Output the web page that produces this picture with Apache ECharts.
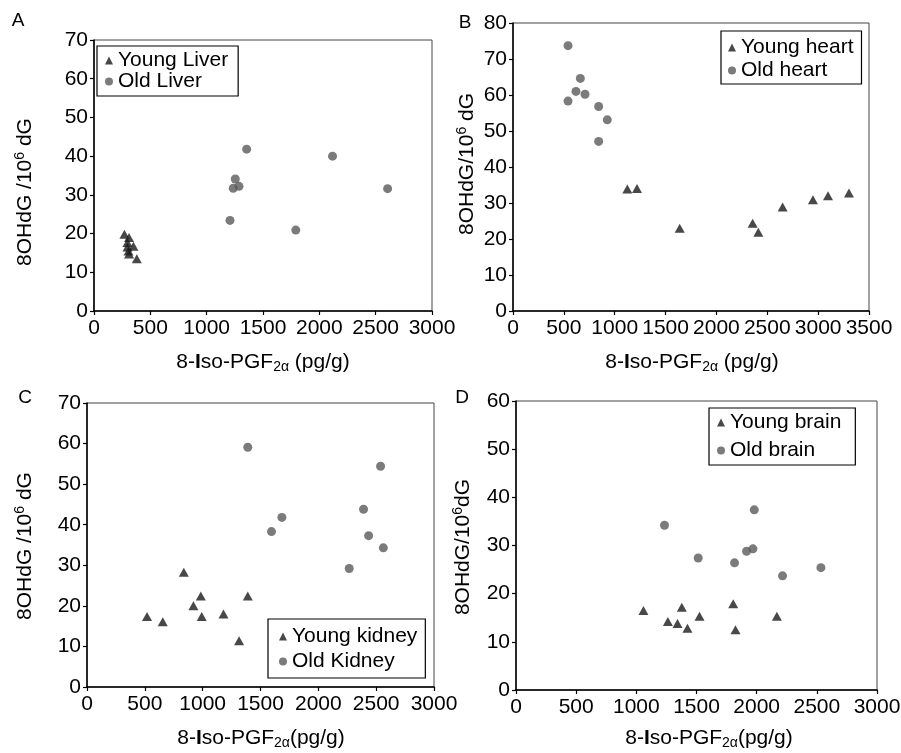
<!DOCTYPE html>
<html>
<head>
<meta charset="utf-8">
<script src="https://cdn.jsdelivr.net/npm/echarts@6/dist/echarts.min.js"></script>
<style>html,body{margin:0;padding:0;background:#fff;}#c{width:901px;height:753px;}</style>
</head>
<body>
<div id="c"></div>
<script>
// ---- data ----
const liverYoungX = [270, 311, 297, 350, 297, 306, 311, 380];
const liverYoungY = [19.8, 19.0, 17.7, 16.7, 16.5, 15.5, 14.7, 13.5];
const liverOldX = [1207, 1254, 1236, 1287, 1355, 1791, 2117, 2606];
const liverOldY = [23.4, 34.1, 31.7, 32.2, 41.8, 20.9, 40.0, 31.6];

const heartYoungX = [1124, 1219, 1639, 2356, 2412, 2651, 2949, 3097, 3303];
const heartYoungY = [33.9, 34.0, 23.0, 24.4, 21.9, 28.9, 30.9, 32.0, 32.8];
const heartOldX = [541, 541, 619, 662, 708, 842, 927, 842];
const heartOldY = [73.7, 58.3, 61.0, 64.6, 60.2, 56.8, 53.1, 47.1];

const kidneyYoungX = [519, 655, 837, 920, 984, 992, 1180, 1315, 1390];
const kidneyYoungY = [17.4, 16.1, 28.3, 20.0, 22.4, 17.4, 18.0, 11.4, 22.4];
const kidneyOldX = [1390, 1595, 1685, 2267, 2391, 2435, 2538, 2562];
const kidneyOldY = [59.1, 38.3, 41.8, 29.2, 43.8, 37.3, 54.4, 34.3];

const brainYoungX = [1059, 1262, 1342, 1378, 1425, 1525, 1805, 1824, 2168];
const brainYoungY = [16.5, 14.2, 13.8, 17.2, 12.8, 15.3, 17.9, 12.5, 15.3];
const brainOldX = [1234, 1514, 1816, 1916, 1969, 1980, 2215, 2534];
const brainOldY = [34.2, 27.4, 26.4, 28.8, 29.3, 37.4, 23.7, 25.4];

const xMax = [3000, 3500, 3000, 3000];
const yMax = [70, 80, 70, 60];
const panelLetters = ['A', 'B', 'C', 'D'];
const seriesNames = [
  ['Young Liver', 'Old Liver'],
  ['Young heart', 'Old heart'],
  ['Young kidney', 'Old Kidney'],
  ['Young brain', 'Old brain']
];
const yTitles = [
  ['8OHdG /10', ' dG'],
  ['8OHdG/10', ' dG'],
  ['8OHdG /10', ' dG'],
  ['8OHdG/10', 'dG']
];
const xTitleTail = [' (pg/g)', ' (pg/g)', '(pg/g)', '(pg/g)'];

// ---- layout ----
const FONT = 'Liberation Sans, Arial, Helvetica, sans-serif';
const grids = [
  {left: 94, top: 40, width: 338, height: 271},
  {left: 513, top: 23, width: 356, height: 288},
  {left: 87, top: 403, width: 347, height: 284},
  {left: 516, top: 401, width: 361, height: 289}
];
const pair = (xs, ys) => xs.map((x, i) => [x, ys[i]]);
const youngData = [pair(liverYoungX, liverYoungY), pair(heartYoungX, heartYoungY), pair(kidneyYoungX, kidneyYoungY), pair(brainYoungX, brainYoungY)];
const oldData = [pair(liverOldX, liverOldY), pair(heartOldX, heartOldY), pair(kidneyOldX, kidneyOldY), pair(brainOldX, brainOldY)];

const legendPos = [
  {left: 97, top: 46, padding: [4, 10, 4, 8], itemGap: 0, itemTextGap: 4},
  {left: 721, top: 31, padding: [6, 8, 3, 7], itemGap: 2, itemTextGap: 5},
  {left: 268, top: 619, padding: [7, 8, 6, 11], itemGap: 4, itemTextGap: 5},
  {left: 709, top: 408, padding: [4, 14, 4, 8], itemGap: 7, itemTextGap: 12}
];
const letterPos = [[18, 21], [465, 23], [25, 398], [462, 398]];
const yTitlePos = [[25, 192], [467, 164], [25, 546], [463, 547]];
const xTitlePos = [[263, 362], [692, 362], [261, 738], [709, 738]];

const plain = v => String(v);

const option = {
  animation: false,
  backgroundColor: '#fff',
  textStyle: {fontFamily: FONT},
  grid: grids.map(g => Object.assign({show: true, borderColor: '#444', borderWidth: 1, backgroundColor: 'transparent', containLabel: false, outerBoundsMode: 'none'}, g)),
  xAxis: grids.map((g, i) => ({
    type: 'value', gridIndex: i, min: 0, max: xMax[i], interval: 500,
    axisLine: {show: true, onZero: false, lineStyle: {color: '#000', width: 1.5}},
    axisTick: {show: true, inside: false, length: 4, lineStyle: {color: '#000', width: 1.2}},
    axisLabel: {color: '#000', fontSize: 21, margin: 7, fontFamily: FONT, showMaxLabel: true, showMinLabel: true, formatter: plain, hideOverlap: false},
    splitLine: {show: false}
  })),
  yAxis: grids.map((g, i) => ({
    type: 'value', gridIndex: i, min: 0, max: yMax[i], interval: 10,
    axisLine: {show: true, onZero: false, lineStyle: {color: '#000', width: 1.5}},
    axisTick: {show: true, inside: false, length: 4, lineStyle: {color: '#000', width: 1.2}},
    axisLabel: {color: '#000', fontSize: 21, margin: 6, fontFamily: FONT, formatter: plain},
    splitLine: {show: false}
  })),
  legend: legendPos.map((p, i) => ({
    data: seriesNames[i],
    orient: 'vertical',
    left: p.left, top: p.top, padding: p.padding,
    itemGap: p.itemGap, itemTextGap: p.itemTextGap,
    itemWidth: 8, itemHeight: 8,
    borderColor: '#000', borderWidth: 1.2, backgroundColor: '#fff',
    textStyle: {fontSize: 21, lineHeight: 21, color: '#000', fontFamily: FONT},
    selectedMode: false
  })),
  series: [].concat(...grids.map((g, i) => [
    {
      name: seriesNames[i][0], type: 'scatter', xAxisIndex: i, yAxisIndex: i,
      symbol: 'triangle', symbolSize: [10, 9],
      itemStyle: {color: '#1a1a1a'},
      data: youngData[i]
    },
    {
      name: seriesNames[i][1], type: 'scatter', xAxisIndex: i, yAxisIndex: i,
      symbol: 'circle', symbolSize: 9,
      itemStyle: {color: '#5a5a5a'},
      data: oldData[i]
    }
  ])),
  graphic: [].concat(
    letterPos.map((p, i) => ({
      type: 'text', x: p[0], y: p[1],
      style: {text: panelLetters[i], fontSize: 19, fontFamily: FONT, fill: '#000', align: 'center', verticalAlign: 'middle'}
    })),
    yTitlePos.map((p, i) => ({
      type: 'text', x: p[0], y: p[1], rotation: Math.PI / 2,
      style: {
        text: '{a|' + yTitles[i][0] + '}{s|6}{a|' + yTitles[i][1] + '}',
        align: 'center', verticalAlign: 'middle', fill: '#000',
        rich: {
          a: {fontSize: 21, lineHeight: 24, fontFamily: FONT, fill: '#000'},
          s: {fontSize: 14, lineHeight: 14, fontFamily: FONT, fill: '#000', verticalAlign: 'top'}
        }
      }
    })),
    xTitlePos.map((p, i) => ({
      type: 'text', x: p[0], y: p[1],
      style: {
        text: '{a|8-}{b|I}{a|so-PGF}{s|2α}{a|' + xTitleTail[i] + '}',
        align: 'center', verticalAlign: 'middle', fill: '#000',
        rich: {
          a: {fontSize: 21, lineHeight: 24, fontFamily: FONT, fill: '#000'},
          b: {fontSize: 21, lineHeight: 24, fontFamily: FONT, fontWeight: 'bold', fill: '#000'},
          s: {fontSize: 14, lineHeight: 14, fontFamily: FONT, fill: '#000', verticalAlign: 'bottom'}
        }
      }
    }))
  )
};

const chart = echarts.init(document.getElementById('c'), null, {renderer: 'canvas'});
chart.setOption(option);
</script>
</body>
</html>
